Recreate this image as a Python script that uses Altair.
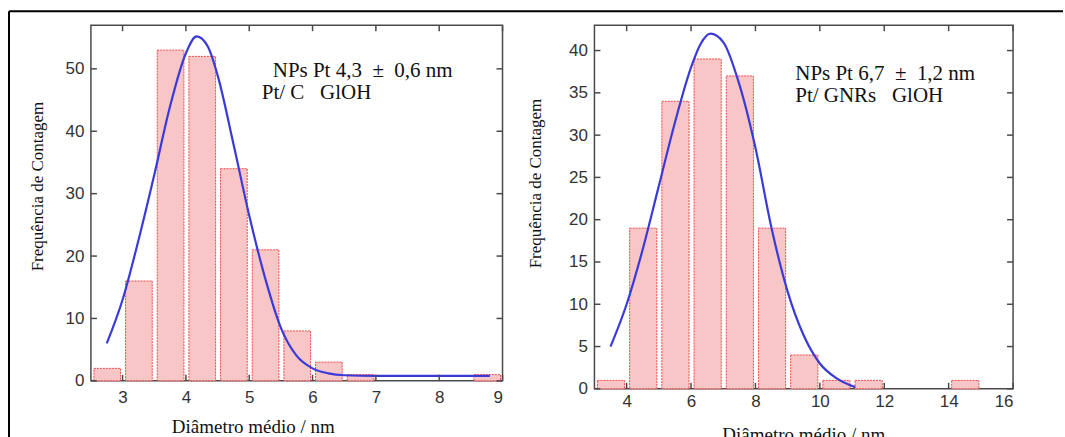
import altair as alt
import pandas as pd

# ---------------- data ----------------
# Left panel: Pt/C GlOH
left_bin_start = [2.5, 3.0, 3.5, 4.0, 4.5, 5.0, 5.5, 6.0, 6.5, 8.5]
left_bin_end = [3.0, 3.5, 4.0, 4.5, 5.0, 5.5, 6.0, 6.5, 7.0, 9.0]
left_counts = [2, 16, 53, 52, 34, 21, 8, 3, 1, 1]
left_curve_x = [2.75, 3.0, 3.25, 3.5, 3.75, 4.0, 4.17, 4.35, 4.5, 4.75, 5.0,
                5.25, 5.5, 5.75, 6.0, 6.25, 6.5, 7.0, 8.0, 8.8]
left_curve_y = [6.0, 13.0, 22.5, 33.0, 44.0, 52.5, 55.2, 53.5, 49.0, 38.0, 26.5,
                16.5, 8.5, 4.0, 2.0, 1.2, 0.9, 0.8, 0.8, 0.8]
left_xticks = [3, 4, 5, 6, 7, 8, 9]
left_yticks = [0, 10, 20, 30, 40, 50]
left_xdomain = [2.5, 9]
left_ydomain = [0, 57]
NB = "\u00a0"
left_text = [f"NPs Pt 4,3{NB}{NB}\u00b1{NB}{NB}0,6 nm", f"Pt/ C{NB}{NB}{NB}GlOH"]

# Right panel: Pt/GNRs GlOH
right_bin_start = [3, 4, 5, 6, 7, 8, 9, 10, 11, 14]
right_bin_end = [4, 5, 6, 7, 8, 9, 10, 11, 12, 15]
right_counts = [1, 19, 34, 39, 37, 19, 4, 1, 1, 1]
right_curve_x = [3.5, 4.0, 4.5, 5.0, 5.5, 6.0, 6.3, 6.6, 7.0, 7.5, 8.0, 8.5,
                 9.0, 9.5, 10.0, 10.5, 11.1]
right_curve_y = [5.0, 10.0, 16.5, 24.0, 31.5, 38.0, 40.8, 42.0, 41.0, 36.0, 28.5,
                 19.0, 11.5, 6.3, 3.0, 1.3, 0.2]
right_xticks = [4, 6, 8, 10, 12, 14, 16]
right_yticks = [0, 5, 10, 15, 20, 25, 30, 35, 40]
right_xdomain = [3, 16]
right_ydomain = [0, 43]
right_text = [f"NPs Pt 6,7{NB}{NB}\u00b1{NB}{NB}1,2 nm", f"Pt/ GNRs{NB}{NB}{NB}GlOH"]

x_title = "Di\u00e2metro m\u00e9dio / nm"
y_title = "Frequ\u00eancia de Contagem"

# ---------------- styles ----------------
BAR_FILL = "#f8c6c6"
BAR_STROKE = "#ee4a4a"
CURVE = "#3a3ad8"
FRAME = "#4a4a4a"
TICK_LEN = 6
LABEL_FONT = "Liberation Sans"
SERIF = "Liberation Serif"
ANNOT_SIZE = 21


def panel(bs, be, counts, cx, cy, xticks, yticks, xdom, ydom, texts, W, H,
          xtitle_pos, ytitle_pos, xlabel_pad, text_pos, outer_frame=False):
    xs = alt.Scale(domain=xdom, nice=False, zero=False)
    ys = alt.Scale(domain=ydom, nice=False, zero=True)
    bars_df = pd.DataFrame({"start": bs, "end": be, "count": counts})
    curve_df = pd.DataFrame({"x": cx, "y": cy})
    xt_df = pd.DataFrame({"v": xticks})
    yt_df = pd.DataFrame({"v": yticks})

    bars = alt.Chart(bars_df).mark_bar(
        fill=BAR_FILL, stroke=BAR_STROKE, strokeWidth=1, strokeDash=[2, 1],
        binSpacing=5,
    ).encode(
        x=alt.X("start:Q", bin="binned", scale=xs,
                axis=alt.Axis(values=xticks, format="d", title=x_title,
                              titleX=xtitle_pos[0], titleY=xtitle_pos[1],
                              titleAlign="center", titleBaseline="alphabetic",
                              titleFontSize=19, labelPadding=xlabel_pad)),
        x2="end:Q",
        y=alt.Y("count:Q", scale=ys,
                axis=alt.Axis(values=yticks, format="d", title=y_title,
                              titleX=ytitle_pos[0], titleY=ytitle_pos[1],
                              titleAngle=270, titleAlign="center",
                              titleBaseline="middle", labelPadding=7)),
    )
    curve = alt.Chart(curve_df).mark_line(
        color=CURVE, strokeWidth=2.2, interpolate="monotone"
    ).encode(
        x=alt.X("x:Q", scale=xs),
        y=alt.Y("y:Q", scale=ys),
    )
    tick_style = dict(color=FRAME, strokeWidth=1.5)
    top_ticks = alt.Chart(xt_df).mark_rule(**tick_style).encode(
        x=alt.X("v:Q", scale=xs), y=alt.value(0), y2=alt.value(TICK_LEN))
    bot_ticks = alt.Chart(xt_df).mark_rule(**tick_style).encode(
        x=alt.X("v:Q", scale=xs), y=alt.value(H), y2=alt.value(H - TICK_LEN))
    left_ticks = alt.Chart(yt_df).mark_rule(**tick_style).encode(
        y=alt.Y("v:Q", scale=ys), x=alt.value(0), x2=alt.value(TICK_LEN))
    right_ticks = alt.Chart(yt_df).mark_rule(**tick_style).encode(
        y=alt.Y("v:Q", scale=ys), x=alt.value(W), x2=alt.value(W - TICK_LEN))

    one = pd.DataFrame({"a": [0]})
    layers = [bars, curve, top_ticks, bot_ticks, left_ticks, right_ticks]
    for txt, (tx, ty) in zip(texts, text_pos):
        layers.append(alt.Chart(one).mark_text(
            font=SERIF, fontSize=ANNOT_SIZE, color="#111111", align="left",
            baseline="alphabetic",
        ).encode(x=alt.value(tx), y=alt.value(ty), text=alt.value(txt)))

    if outer_frame:
        top_line = alt.Chart(one).mark_rule(color="black", strokeWidth=2).encode(
            x=alt.value(-82), x2=alt.value(973), y=alt.value(-14))
        left_line = alt.Chart(one).mark_rule(color="black", strokeWidth=2).encode(
            x=alt.value(-82), y=alt.value(-14), y2=alt.value(413))
        layers += [top_line, left_line]
    return alt.layer(*layers).properties(width=W, height=H)


left = panel(left_bin_start, left_bin_end, left_counts, left_curve_x, left_curve_y,
             left_xticks, left_yticks, left_xdomain, left_ydomain, left_text,
             412, 356, (162, 52), (-53, 161), 9,
             [(182, 52), (171, 74)], outer_frame=True)
right = panel(right_bin_start, right_bin_end, right_counts, right_curve_x, right_curve_y,
              right_xticks, right_yticks, right_xdomain, right_ydomain, right_text,
              419, 364, (209, 52), (-59, 158), 5,
              [(201, 55), (201, 77)])

chart = alt.hconcat(left, right, spacing=92, bounds="flush").properties(
    padding={"left": 7, "top": 9, "right": 0, "bottom": 0},
    background="white",
).configure_view(
    stroke=FRAME, strokeWidth=1.5
).configure_axis(
    grid=False, domain=False, ticks=False, tickSize=0,
    labelFont=LABEL_FONT, labelFontSize=17, labelColor="#333333",
    titleFont=SERIF, titleFontSize=17, titleFontWeight="normal", titleColor="#111111",
)

chart.save("out.html", embed_options={"renderer": "svg", "actions": False})
